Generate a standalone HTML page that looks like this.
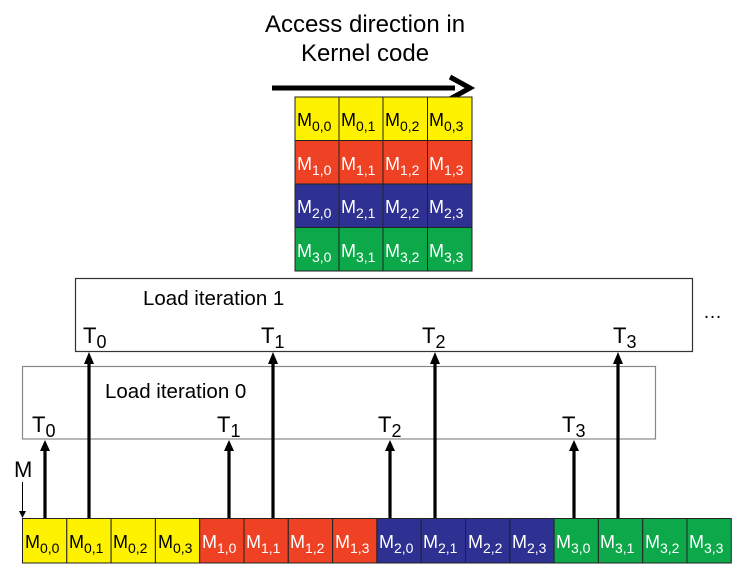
<!DOCTYPE html>
<html><head><style>body{margin:0;background:#fff}svg{display:block}text{font-family:"Liberation Sans",Arial,sans-serif}</style></head>
<body>
<svg width="755" height="578" viewBox="0 0 755 578" xmlns="http://www.w3.org/2000/svg">
<text x="365" y="32" font-size="24" text-anchor="middle">Access direction in</text>
<text x="365" y="61" font-size="24" text-anchor="middle">Kernel code</text>
<line x1="272" y1="88" x2="455" y2="88" stroke="#000" stroke-width="5"/>
<path d="M450,77 L470,88 L450,99" fill="none" stroke="#000" stroke-width="5"/>
<g stroke-width="1">
<rect x="295" y="97" width="44" height="43.5" fill="#fff200" stroke="#222"/><rect x="339" y="97" width="44" height="43.5" fill="#fff200" stroke="#222"/><rect x="383" y="97" width="44.5" height="43.5" fill="#fff200" stroke="#222"/><rect x="427.5" y="97" width="44.5" height="43.5" fill="#fff200" stroke="#222"/>
<rect x="295" y="140.5" width="44" height="43.5" fill="#ef4123" stroke="#222"/><rect x="339" y="140.5" width="44" height="43.5" fill="#ef4123" stroke="#222"/><rect x="383" y="140.5" width="44.5" height="43.5" fill="#ef4123" stroke="#222"/><rect x="427.5" y="140.5" width="44.5" height="43.5" fill="#ef4123" stroke="#222"/>
<rect x="295" y="184" width="44" height="43.5" fill="#2e3192" stroke="#222"/><rect x="339" y="184" width="44" height="43.5" fill="#2e3192" stroke="#222"/><rect x="383" y="184" width="44.5" height="43.5" fill="#2e3192" stroke="#222"/><rect x="427.5" y="184" width="44.5" height="43.5" fill="#2e3192" stroke="#222"/>
<rect x="295" y="227.5" width="44" height="43.5" fill="#0ca84a" stroke="#222"/><rect x="339" y="227.5" width="44" height="43.5" fill="#0ca84a" stroke="#222"/><rect x="383" y="227.5" width="44.5" height="43.5" fill="#0ca84a" stroke="#222"/><rect x="427.5" y="227.5" width="44.5" height="43.5" fill="#0ca84a" stroke="#222"/>
</g>
<g font-size="18">
<text x="297" y="126">M<tspan font-size="14" dy="5">0,0</tspan></text><text x="341" y="126">M<tspan font-size="14" dy="5">0,1</tspan></text><text x="385" y="126">M<tspan font-size="14" dy="5">0,2</tspan></text><text x="429" y="126">M<tspan font-size="14" dy="5">0,3</tspan></text>
<g fill="#fff">
<text x="297" y="170">M<tspan font-size="14" dy="5">1,0</tspan></text><text x="341" y="170">M<tspan font-size="14" dy="5">1,1</tspan></text><text x="385" y="170">M<tspan font-size="14" dy="5">1,2</tspan></text><text x="429" y="170">M<tspan font-size="14" dy="5">1,3</tspan></text>
<text x="297" y="213">M<tspan font-size="14" dy="5">2,0</tspan></text><text x="341" y="213">M<tspan font-size="14" dy="5">2,1</tspan></text><text x="385" y="213">M<tspan font-size="14" dy="5">2,2</tspan></text><text x="429" y="213">M<tspan font-size="14" dy="5">2,3</tspan></text>
<text x="297" y="257">M<tspan font-size="14" dy="5">3,0</tspan></text><text x="341" y="257">M<tspan font-size="14" dy="5">3,1</tspan></text><text x="385" y="257">M<tspan font-size="14" dy="5">3,2</tspan></text><text x="429" y="257">M<tspan font-size="14" dy="5">3,3</tspan></text>
</g></g>
<rect x="75.5" y="278.5" width="617" height="73" fill="none" stroke="#333" stroke-width="1.2"/>
<rect x="22.5" y="366.5" width="633" height="72.5" fill="none" stroke="#888" stroke-width="1.2"/>
<text x="143" y="305" font-size="20.5">Load iteration 1</text>
<text x="105" y="398" font-size="20.5">Load iteration 0</text>
<text x="703" y="318" font-size="19">…</text>
<g font-size="22">
<text x="83" y="343">T<tspan font-size="18" dy="5">0</tspan></text>
<text x="261" y="343">T<tspan font-size="18" dy="5">1</tspan></text>
<text x="422" y="343">T<tspan font-size="18" dy="5">2</tspan></text>
<text x="613" y="343">T<tspan font-size="18" dy="5">3</tspan></text>
<text x="32" y="432">T<tspan font-size="18" dy="5">0</tspan></text>
<text x="217" y="432">T<tspan font-size="18" dy="5">1</tspan></text>
<text x="378" y="432">T<tspan font-size="18" dy="5">2</tspan></text>
<text x="562" y="432">T<tspan font-size="18" dy="5">3</tspan></text>
<text x="14" y="477">M</text>
</g>
<line x1="22.5" y1="482" x2="22.5" y2="512" stroke="#000" stroke-width="1"/>
<path d="M19,511 L22.5,518 L26,511 z"/>
<g stroke="#000" stroke-width="3.2">
<line x1="45" y1="518" x2="45" y2="449"/><line x1="229" y1="518" x2="229" y2="449"/><line x1="390" y1="518" x2="390" y2="449"/><line x1="574" y1="518" x2="574" y2="449"/>
<line x1="89" y1="518" x2="89" y2="362"/><line x1="273" y1="518" x2="273" y2="362"/><line x1="435" y1="518" x2="435" y2="362"/><line x1="618" y1="518" x2="618" y2="362"/>
</g>
<g>
<path d="M40,451 L45,440 L50,451 z"/><path d="M224,451 L229,440 L234,451 z"/><path d="M385,451 L390,440 L395,451 z"/><path d="M569,451 L574,440 L579,451 z"/>
<path d="M84,364 L89,352 L94,364 z"/><path d="M268,364 L273,352 L278,364 z"/><path d="M430,364 L435,352 L440,364 z"/><path d="M613,364 L618,352 L623,364 z"/>
</g>
<g stroke="#222" stroke-width="1">
<rect x="22.5" y="518.5" width="44.3" height="44.5" fill="#fff200"/><rect x="66.8" y="518.5" width="44.3" height="44.5" fill="#fff200"/><rect x="111.1" y="518.5" width="44.3" height="44.5" fill="#fff200"/><rect x="155.4" y="518.5" width="44.3" height="44.5" fill="#fff200"/>
<rect x="199.7" y="518.5" width="44.3" height="44.5" fill="#ef4123"/><rect x="244" y="518.5" width="44.3" height="44.5" fill="#ef4123"/><rect x="288.3" y="518.5" width="44.3" height="44.5" fill="#ef4123"/><rect x="332.6" y="518.5" width="44.3" height="44.5" fill="#ef4123"/>
<rect x="376.9" y="518.5" width="44.3" height="44.5" fill="#2e3192"/><rect x="421.2" y="518.5" width="44.3" height="44.5" fill="#2e3192"/><rect x="465.5" y="518.5" width="44.3" height="44.5" fill="#2e3192"/><rect x="509.8" y="518.5" width="44.3" height="44.5" fill="#2e3192"/>
<rect x="554.1" y="518.5" width="44.3" height="44.5" fill="#0ca84a"/><rect x="598.4" y="518.5" width="44.3" height="44.5" fill="#0ca84a"/><rect x="642.7" y="518.5" width="44.3" height="44.5" fill="#0ca84a"/><rect x="687" y="518.5" width="44.3" height="44.5" fill="#0ca84a"/>
</g>
<g font-size="18">
<text x="25" y="548">M<tspan font-size="14" dy="5">0,0</tspan></text><text x="69" y="548">M<tspan font-size="14" dy="5">0,1</tspan></text><text x="113" y="548">M<tspan font-size="14" dy="5">0,2</tspan></text><text x="158" y="548">M<tspan font-size="14" dy="5">0,3</tspan></text>
<g fill="#fff">
<text x="202" y="548">M<tspan font-size="14" dy="5">1,0</tspan></text><text x="246" y="548">M<tspan font-size="14" dy="5">1,1</tspan></text><text x="290" y="548">M<tspan font-size="14" dy="5">1,2</tspan></text><text x="335" y="548">M<tspan font-size="14" dy="5">1,3</tspan></text>
<text x="379" y="548">M<tspan font-size="14" dy="5">2,0</tspan></text><text x="423" y="548">M<tspan font-size="14" dy="5">2,1</tspan></text><text x="468" y="548">M<tspan font-size="14" dy="5">2,2</tspan></text><text x="512" y="548">M<tspan font-size="14" dy="5">2,3</tspan></text>
<text x="556" y="548">M<tspan font-size="14" dy="5">3,0</tspan></text><text x="600" y="548">M<tspan font-size="14" dy="5">3,1</tspan></text><text x="645" y="548">M<tspan font-size="14" dy="5">3,2</tspan></text><text x="689" y="548">M<tspan font-size="14" dy="5">3,3</tspan></text>
</g></g>
</svg>
</body></html>
